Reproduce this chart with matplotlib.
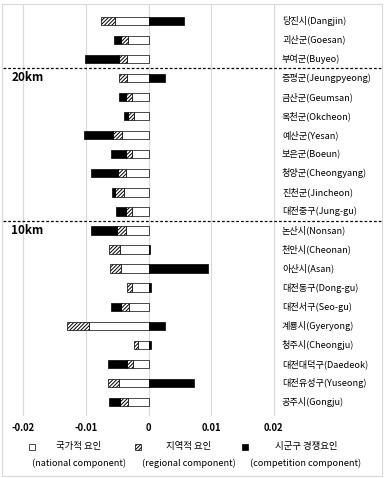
import numpy as np
import matplotlib
matplotlib.use("Agg")
import matplotlib.pyplot as plt
from matplotlib.patches import Rectangle

plt.rcParams['font.family'] = ['Noto Sans CJK KR', 'DejaVu Sans']
plt.rcParams['hatch.linewidth'] = 0.7

# regions, top to bottom
regions = ['당진시(Dangjin)', '괴산군(Goesan)', '부여군(Buyeo)',
           '증평군(Jeungpyeong)', '금산군(Geumsan)', '옥천군(Okcheon)', '예산군(Yesan)',
           '보은군(Boeun)', '청양군(Cheongyang)', '진천군(Jincheon)', '대전중구(Jung-gu)',
           '논산시(Nonsan)', '천안시(Cheonan)', '아산시(Asan)', '대전동구(Dong-gu)',
           '대전서구(Seo-gu)', '계룡시(Gyeryong)', '청주시(Cheongju)', '대전대덕구(Daedeok)',
           '대전유성구(Yuseong)', '공주시(Gongju)']

national = [-0.00544, -0.00325, -0.0035, -0.0035, -0.0027, -0.0024, -0.0043,
            -0.00267, -0.00368, -0.0039, -0.0026,
            -0.0036, -0.0046, -0.0044, -0.0026, -0.0032, -0.0096, -0.00165,
            -0.00256, -0.0047, -0.00336]
regional = [-0.00213, -0.00117, -0.00123, -0.00123, -0.00096, -0.00085, -0.00133,
            -0.00096, -0.00123, -0.00150, -0.0010,
            -0.0014, -0.00176, -0.0017, -0.0009, -0.00128, -0.0034, -0.0006,
            -0.0009, -0.00176, -0.00117]
competition = [0.00565, -0.00112, -0.0054, 0.00256, -0.00112, -0.00075, -0.0047,
               -0.00245, -0.00437, -0.00045, -0.0016,
               -0.0042, 0.0002, 0.0095, 0.0004, -0.00155, 0.0026, 0.0004,
               -0.0030, 0.00725, -0.00176]

ticks = [-0.02, -0.01, 0, 0.01, 0.02]
tick_labels = ['-0.02', '-0.01', '0', '0.01', '0.02']
groups = {'20km': 3, '10km': 11}
group_breaks = [2.5, 10.5]

legend_ko = ['국가적 요인', '지역적 요인', '시군구 경쟁요인']
legend_en = ['(national component)', '(regional component)', '(competition component)']

W, H = 386, 478
fig = plt.figure(figsize=(W / 100, H / 100), dpi=100)
# axes placed in pixel terms
ax = fig.add_axes([3 / W, 1 - 416 / H, 380 / W, 412 / H])

y = np.arange(len(regions))
HATCH = '/////////'
styles = [dict(color='white', edgecolor='black', linewidth=0.5),
          dict(color='white', edgecolor='black', linewidth=0.5, hatch=HATCH),
          dict(color='black', edgecolor='black', linewidth=0.5)]

neg = np.zeros(len(regions))
pos = np.zeros(len(regions))
for vals, st in zip([national, regional, competition], styles):
    v = np.array(vals)
    left = np.where(v < 0, neg, pos)
    ax.barh(y, v, left=left, height=0.44, zorder=3, **st)
    neg = neg + np.where(v < 0, v, 0)
    pos = pos + np.where(v > 0, v, 0)

for i, r in enumerate(regions):
    ax.text(0.02136, i, r, va='center', ha='left', fontsize=6.6,
            fontweight='medium', zorder=4)

for g, idx in groups.items():
    ax.text(0.022, idx, g, transform=ax.get_yaxis_transform(), va='center',
            ha='left', fontsize=8.5, fontweight='bold')

for b in group_breaks:
    ax.axhline(b, color='black', linewidth=0.9, linestyle=(0, (2.2, 1.6)), zorder=5,
               clip_on=False)

ax.set_xlim((3 - 148.5) / 6250, (383 - 148.5) / 6250)
ax.set_ylim(20.73, -0.88)
ax.set_xticks(ticks)
ax.set_xticklabels(tick_labels, fontsize=6.8, fontweight='bold')
ax.set_yticks([])
ax.tick_params(axis='x', length=0, pad=5)
ax.grid(axis='x', color='#d9d9d9', linewidth=0.8, zorder=0)
for s in ax.spines.values():
    s.set_visible(False)

# legend drawn in pixel positions
marker_x = [31.7, 138, 245]
text_cx = [79, 189, 306]
for k in range(3):
    hatch = HATCH if k == 1 else None
    fc = 'black' if k == 2 else 'white'
    fig.add_artist(Rectangle(((marker_x[k] - 3) / W, 1 - 450 / H), 6 / W, 6 / H,
                             transform=fig.transFigure, facecolor=fc,
                             edgecolor='black', linewidth=0.5, hatch=hatch))
    fig.text(text_cx[k] / W, 1 - 447 / H, legend_ko[k], ha='center', va='center',
             fontsize=6.8)
    fig.text(text_cx[k] / W, 1 - 463 / H, legend_en[k], ha='center', va='center',
             fontsize=6.6, fontweight='medium')

fig.add_artist(Rectangle((2 / W, 2 / H), 380 / W, 472 / H, transform=fig.transFigure,
                         facecolor='none', edgecolor='#d9d9d9', linewidth=0.8))

fig.savefig('out.png', dpi=100)
